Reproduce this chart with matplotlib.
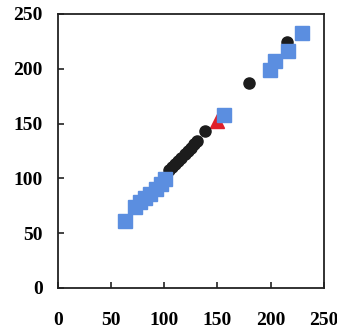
import matplotlib.pyplot as plt

# blue squares
sq_x = [63, 72, 77, 82, 87, 92, 97, 101, 156, 199, 204, 216, 229]
sq_y = [61, 74, 78, 82, 86, 90, 95, 99, 158, 199, 207, 216, 233]

# black circles
ci_x = [104, 107, 110, 113, 116, 119, 122, 125, 128, 131, 138, 180, 215]
ci_y = [108, 110, 113, 116, 119, 122, 125, 128, 131, 134, 143, 187, 224]

# red triangles
tr_x = [150]
tr_y = [152]

ticks = [0, 50, 100, 150, 200, 250]

plt.rcParams['font.family'] = ['Liberation Serif', 'DejaVu Serif']
plt.rcParams['font.weight'] = 'bold'

fig = plt.figure(figsize=(3.37, 3.31), dpi=100)
ax = fig.add_axes([0.172, 0.130, 0.789, 0.828])

ax.plot(tr_x, tr_y, '^', color='#e0202a', markersize=10, zorder=2)
ax.plot(ci_x, ci_y, 'o', color='#1c1c1c', markersize=8, zorder=3)
ax.plot(sq_x, sq_y, 's', color='#5b8ee0', markersize=10, zorder=4)

ax.set_xlim(0, 250)
ax.set_ylim(0, 250)
ax.set_xticks(ticks)
ax.set_yticks(ticks)
ax.tick_params(direction='in', length=4, width=1.2, color='#222222', labelsize=14)
ax.tick_params(axis='x', pad=17)
ax.tick_params(axis='y', pad=11)

for s in ax.spines.values():
    s.set_linewidth(1.3)
    s.set_color('#222222')

fig.savefig('out.png', dpi=100)
